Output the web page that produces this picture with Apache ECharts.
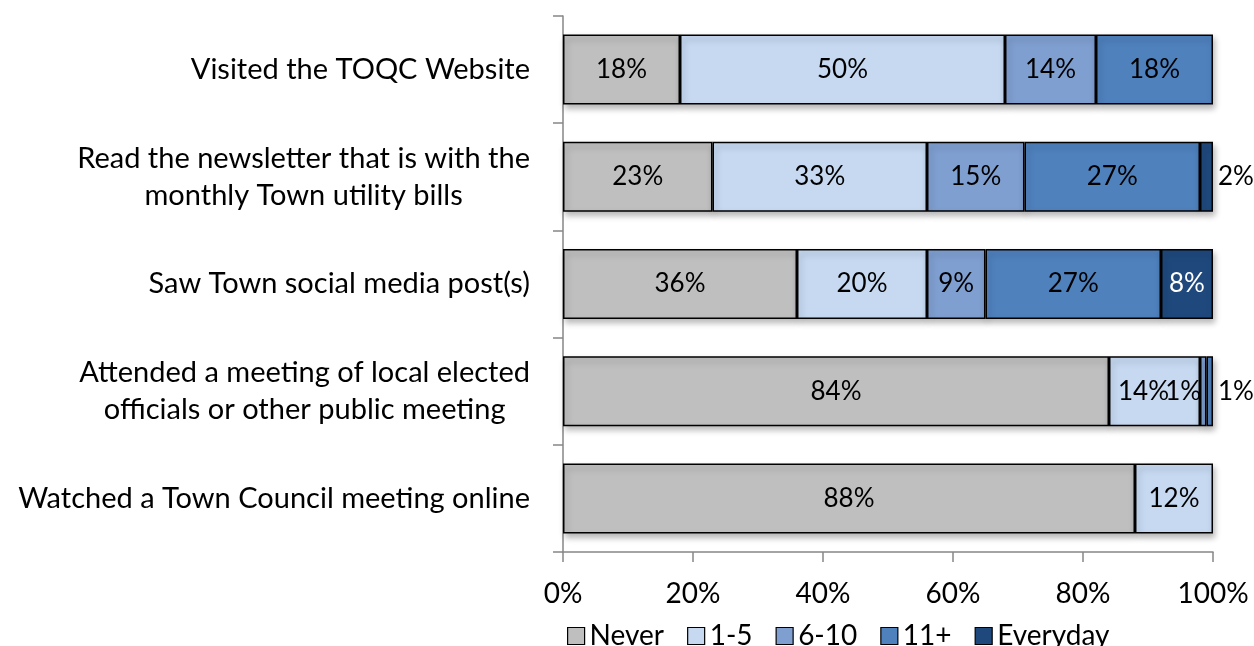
<!DOCTYPE html>
<html><head><meta charset="utf-8">
<script src="https://cdn.jsdelivr.net/npm/echarts@6/dist/echarts.min.js"></script>
<style>html,body{margin:0;padding:0;background:#fff}#c{width:1254px;height:646px}</style>
</head><body><div id="c"></div>
<script>
const categories = [
  'Visited the TOQC Website',
  'Read the newsletter that is with the\nmonthly Town utility bills',
  'Saw Town social media post(s)',
  'Attended a meeting of local elected\nofficials or other public meeting',
  'Watched a Town Council meeting online'
];
const seriesNames = ['Never', '1-5', '6-10', '11+', 'Everyday'];
const never      = [18, 23, 36, 84, 88];
const oneToFive  = [50, 33, 20, 14, 12];
const sixToTen   = [14, 15, 9, 1, null];
const elevenPlus = [18, 27, 27, 1, null];
const everyday   = [null, 2, 8, null, null];
const xTickLabels = ['0%', '20%', '40%', '60%', '80%', '100%'];

const FONT = 'Lato';
const colors = ['#BFBFBF', '#C6D9F1', '#7F9FD1', '#4F81BD', '#1F497D'];
const allValues = [never, oneToFive, sixToTen, elevenPlus, everyday];

function mkData(arr, si) {
  return arr.map((v, i) => {
    if (v === null) return null;
    const item = { value: v };
    // small trailing segments labelled outside the bar
    if ((si === 4 && i === 1) || (si === 3 && i === 3)) {
      item.label = { position: 'right', distance: 5, color: '#000' };
    }
    if (si === 2 && i === 3) {
      item.label = { position: 'inside', offset: [-20, 0] };
    }
    if (si === 1 && i === 3) {
      item.label = { position: 'inside', offset: [-11, 0] };
    }
    return item;
  });
}

const series = seriesNames.map((name, si) => ({
  name,
  type: 'bar',
  stack: 'total',
  barWidth: 70,
  data: mkData(allValues[si], si),
  itemStyle: {
    color: colors[si],
    borderColor: '#000',
    borderWidth: 1.5,
    shadowColor: 'rgba(0,0,0,0.28)',
    shadowBlur: 6,
    shadowOffsetX: 2,
    shadowOffsetY: 4
  },
  label: {
    show: true,
    position: 'inside',
    formatter: p => p.value + '%',
    fontFamily: FONT,
    fontSize: 26,
    color: si === 4 ? '#fff' : '#000'
  }
}));

const chart = echarts.init(document.getElementById('c'), null, { renderer: 'canvas' });
chart.setOption({
  animation: false,
  backgroundColor: '#fff',
  textStyle: { fontFamily: FONT },
  grid: { left: 563, right: 41, top: 16, bottom: 94, containLabel: false },
  legend: {
    data: seriesNames,
    left: 562,
    top: 617,
    itemWidth: 17,
    itemHeight: 17,
    itemGap: 23,
    icon: 'rect',
    itemStyle: { borderColor: '#000', borderWidth: 1.2, shadowBlur: 0, shadowOffsetX: 0, shadowOffsetY: 0 },
    textStyle: { fontFamily: FONT, fontSize: 28, color: '#000', padding: [0, 0, 0, 0] }
  },
  xAxis: {
    type: 'value',
    min: 0, max: 100, interval: 20,
    axisLine: { show: true, lineStyle: { color: '#868686', width: 1.5 } },
    axisTick: { show: true, length: 10, lineStyle: { color: '#868686', width: 1.5 } },
    splitLine: { show: false },
    axisLabel: {
      margin: 28,
      fontFamily: FONT, fontSize: 28, color: '#000',
      formatter: v => xTickLabels[Math.round(v / 20)]
    }
  },
  yAxis: {
    type: 'category',
    inverse: true,
    data: categories,
    axisLine: { show: true, lineStyle: { color: '#868686', width: 1.5 } },
    axisTick: { show: true, length: 10, lineStyle: { color: '#868686', width: 1.5 } },
    axisLabel: {
      margin: 33,
      fontFamily: FONT, fontSize: 29, color: '#000',
      lineHeight: 37,
      formatter: v => v.split('\n').map(s => '{c|' + s + '}').join('\n'),
      rich: { c: { align: 'center', fontFamily: FONT, fontSize: 29, color: '#000', lineHeight: 37 } }
    }
  },
  series
});
</script>
</body></html>
